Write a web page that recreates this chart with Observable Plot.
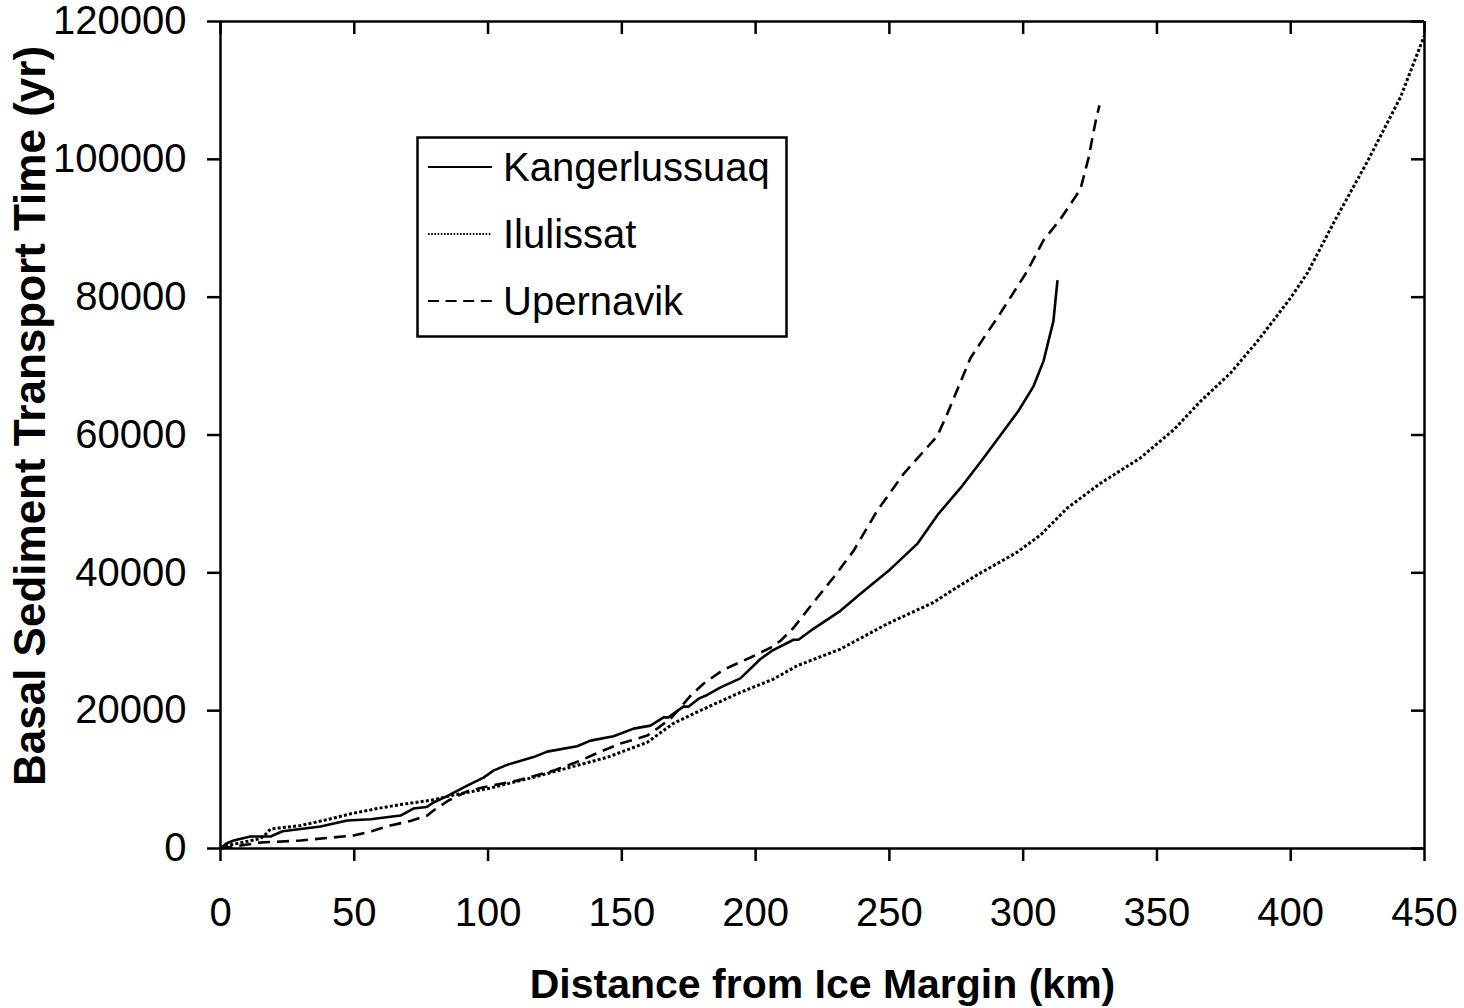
<!DOCTYPE html>
<html><head><meta charset="utf-8">
<script src="https://cdn.jsdelivr.net/npm/d3@7"></script>
<script src="https://cdn.jsdelivr.net/npm/@observablehq/plot@0.6"></script>
<style>
body{margin:0;background:#fff;}
#wrap{position:relative;width:1464px;height:1008px;font-family:"Liberation Sans",Arial,sans-serif;}
#legend{position:absolute;left:416px;top:136px;}
</style></head><body><div id="wrap"></div>
<script>
// Kangerlussuaq (solid)
const kangerKm = [0, 2.2, 4.9, 11.2, 18.7, 23.2, 37.4, 47.4, 56.1, 67.3, 72.1, 77, 79.6, 84.7, 92.2, 98.3, 102, 107.3, 117, 122.1, 133.3, 138.3, 146.9, 154.4, 160.7, 165.6, 167.4, 173, 174.9, 178.7, 181.9, 186.9, 194.3, 201.8, 206.2, 214.2, 216, 221.6, 231.7, 239.2, 249.7, 260.4, 268, 276.6, 285.2, 298.2, 303.9, 307.6, 311.3, 312.8];
const kangerYr = [0, 725, 1160, 1740, 1740, 2500, 3190, 4060, 4250, 4780, 5800, 6010, 6670, 7610, 9130, 10290, 11300, 12170, 13260, 14060, 14830, 15650, 16300, 17390, 17830, 19030, 19030, 20580, 20580, 21740, 22280, 23380, 24680, 27490, 28700, 30290, 30290, 31880, 34490, 36960, 40290, 44200, 48400, 52320, 56670, 63480, 67100, 70720, 76520, 82320];
// Ilulissat (dotted)
const ilulKm = [0, 2.6, 8.6, 15, 16.8, 18.7, 29.9, 39.9, 48.6, 58.6, 67.3, 79.6, 87.1, 100.9, 117, 129.6, 144.5, 159.5, 169.3, 181.9, 194.3, 206.7, 215.5, 231.7, 249.2, 266.5, 272.8, 282.8, 297.8, 306.5, 316.5, 328.9, 343.8, 356.3, 366.3, 377.5, 387.5, 393.7, 399.9, 406.2, 416.1, 428.6, 441, 450];
const ilulYr = [0, 435, 913, 1450, 2030, 2830, 3330, 4200, 5030, 5800, 6380, 7060, 7750, 8770, 10330, 11670, 13230, 15400, 18160, 20480, 22650, 24590, 26520, 28940, 32600, 35700, 37300, 39700, 43000, 45500, 49400, 53000, 56670, 60770, 64890, 68990, 73580, 76710, 79860, 83480, 90830, 99640, 108990, 118000];
// Upernavik (dashed)
const upernKm = [0, 7.5, 15, 29.9, 49.7, 56.8, 63.5, 71, 77.3, 79.6, 85.2, 92.2, 98.3, 110.9, 124.5, 134.5, 142, 149.5, 159.5, 163.2, 168.2, 175.7, 180.5, 188, 198.1, 205.6, 209.3, 214.2, 221.6, 229.1, 236.6, 245.4, 255.3, 267.9, 271.6, 280.3, 285.2, 291.5, 301.5, 307.6, 313.9, 321.4, 324.4, 327, 328.5];
const upernYr = [0, 435, 870, 1160, 1880, 2540, 3330, 3990, 4780, 5510, 6960, 8300, 8880, 9850, 11300, 12750, 14060, 15220, 16380, 17390, 18840, 22170, 23910, 25940, 27720, 29130, 30140, 32030, 35700, 39320, 43190, 48990, 54350, 59860, 63040, 71160, 74060, 77680, 83770, 88260, 91300, 95650, 100150, 105360, 107830];

const seriesNames = ["Kangerlussuaq", "Ilulissat", "Upernavik"];
const xTicks = [0, 50, 100, 150, 200, 250, 300, 350, 400, 450];
const yTicks = [0, 20000, 40000, 60000, 80000, 100000, 120000];
const xTitle = "Distance from Ice Margin (km)";
const yTitle = "Basal Sediment Transport Time (yr)";

const toRows = (km, yr) => km.map((k, i) => ({km: k, yr: yr[i]}));
const kanger = toRows(kangerKm, kangerYr);
const ilul = toRows(ilulKm, ilulYr);
const upern = toRows(upernKm, upernYr);

const xMax = xTicks[xTicks.length - 1];
const yMax = yTicks[yTicks.length - 1];
const ink = "#000";
const font = "'Liberation Sans', Arial, sans-serif";

const plot = Plot.plot({
  width: 1464, height: 1008,
  marginLeft: 220, marginRight: 40, marginTop: 21, marginBottom: 160,
  style: {fontFamily: font, fontSize: "40px", color: ink, background: "#fff", overflow: "visible"},
  x: {domain: [0, xMax]},
  y: {domain: [0, yMax]},
  marks: [
    Plot.line(kanger, {x: "km", y: "yr", stroke: ink, strokeWidth: 2.6}),
    Plot.line(ilul, {x: "km", y: "yr", stroke: ink, strokeWidth: 3, strokeDasharray: "3,2.2", strokeLinecap: "butt", strokeLinejoin: "miter"}),
    Plot.line(upern, {x: "km", y: "yr", stroke: ink, strokeWidth: 2.6, strokeDasharray: "12,7", strokeLinecap: "butt"}),
    Plot.ruleX([0, xMax], {stroke: ink, strokeWidth: 2.5}),
    Plot.ruleY([0, yMax], {stroke: ink, strokeWidth: 2.5}),
    // inward ticks on top and right borders
    Plot.ruleX(xTicks, {x: d => d, y1: () => yMax, y2: () => yMax, insetBottom: -13, stroke: ink, strokeWidth: 2.5}),
    Plot.ruleY(yTicks, {y: d => d, x1: () => xMax, x2: () => xMax, insetLeft: -13, stroke: ink, strokeWidth: 2.5}),
    Plot.axisX({ticks: xTicks, tickSize: 13, tickPadding: 36, tickFormat: d => String(d), label: null, fontSize: 40, strokeWidth: 2.5, stroke: ink, fill: ink}),
    Plot.axisY({ticks: yTicks, tickSize: 13, tickPadding: 21, tickFormat: d => String(d), label: null, fontSize: 40, strokeWidth: 2.5, stroke: ink, fill: ink}),
    Plot.text([xTitle], {text: d => d, frameAnchor: "bottom", lineAnchor: "middle", textAnchor: "middle", dy: 136, fontWeight: "bold", fontSize: 41, fill: ink}),
    Plot.text([yTitle], {text: d => d, frameAnchor: "left", lineAnchor: "middle", textAnchor: "middle", rotate: -90, dx: -190, dy: -19, fontWeight: "bold", fontSize: 44, fill: ink})
  ]
});

const wrap = document.getElementById("wrap");
wrap.appendChild(plot);

// legend overlay
const dashes = [null, "1.6,1.6", "11,6.6"];
const widths = [2, 1.8, 2];
const ns = "http://www.w3.org/2000/svg";
const lg = document.createElementNS(ns, "svg");
lg.setAttribute("id", "legend");
lg.setAttribute("width", 373);
lg.setAttribute("height", 203);
const rect = document.createElementNS(ns, "rect");
rect.setAttribute("x", 1.5); rect.setAttribute("y", 1.5);
rect.setAttribute("width", 369); rect.setAttribute("height", 199);
rect.setAttribute("fill", "#fff"); rect.setAttribute("stroke", ink); rect.setAttribute("stroke-width", 2.5);
lg.appendChild(rect);
seriesNames.forEach((name, i) => {
  const cy = 31 + i * 67;
  const ln = document.createElementNS(ns, "line");
  ln.setAttribute("x1", 12); ln.setAttribute("x2", 76);
  ln.setAttribute("y1", cy); ln.setAttribute("y2", cy);
  ln.setAttribute("stroke", ink); ln.setAttribute("stroke-width", widths[i]);
  if (dashes[i]) ln.setAttribute("stroke-dasharray", dashes[i]);
  lg.appendChild(ln);
  const t = document.createElementNS(ns, "text");
  t.setAttribute("x", 87); t.setAttribute("y", cy + 14);
  t.setAttribute("font-family", font); t.setAttribute("font-size", 40); t.setAttribute("fill", ink);
  t.textContent = name;
  lg.appendChild(t);
});
wrap.appendChild(lg);
</script>
</body></html>
